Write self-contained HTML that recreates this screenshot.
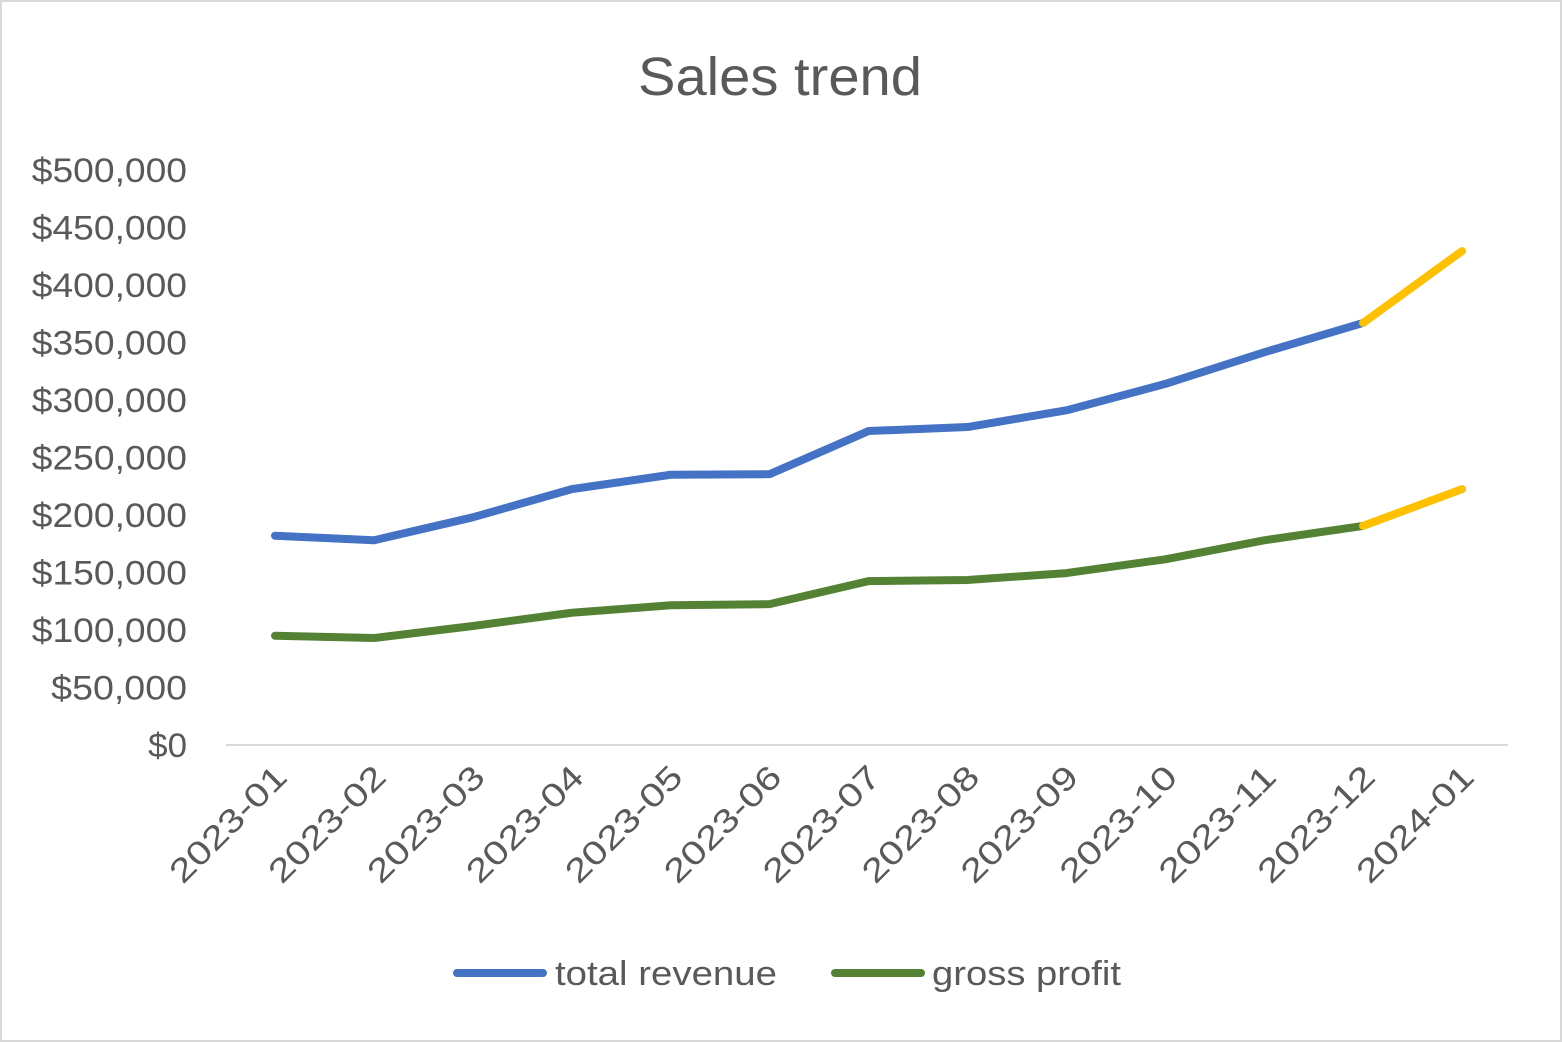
<!DOCTYPE html>
<html><head><meta charset="utf-8"><style>
body{margin:0;background:#fff}
svg{display:block;font-family:"Liberation Sans",sans-serif}
</style></head><body>
<svg width="1562" height="1042">
<rect x="1" y="1" width="1560" height="1040" fill="#fff" stroke="#d9d9d9" stroke-width="2"/>
<text x="638" y="95" font-size="54" fill="#595959" textLength="284" lengthAdjust="spacingAndGlyphs">Sales trend</text>
<g id="yaxis"></g><g id="xaxis"></g><g id="series"></g>
<g>
<line x1="457" y1="973" x2="543" y2="973" stroke="#4472C4" stroke-width="8" stroke-linecap="round"/>
<text x="555" y="985" font-size="34" fill="#595959" textLength="222" lengthAdjust="spacingAndGlyphs">total revenue</text>
<line x1="835" y1="973" x2="921" y2="973" stroke="#548235" stroke-width="8" stroke-linecap="round"/>
<text x="932" y="985" font-size="34" fill="#595959" textLength="189" lengthAdjust="spacingAndGlyphs">gross profit</text>
</g>
</svg>
<script>
const categories=["2023-01","2023-02","2023-03","2023-04","2023-05","2023-06","2023-07","2023-08","2023-09","2023-10","2023-11","2023-12","2024-01"];
const revenue=[182000,178000,198000,222500,235000,235500,273000,276500,291000,314000,341500,367000,429500];
const profit=[95000,93000,103500,115000,121500,122500,142500,143500,149500,161500,178000,190500,222500];
const yTicks=[0,50000,100000,150000,200000,250000,300000,350000,400000,450000,500000];
const NS="http://www.w3.org/2000/svg";
const y=v=>745-v*575/500000;
const x=i=>275+i*(1462-275)/(categories.length-1);
function mk(tag,attrs,parent){const e=document.createElementNS(NS,tag);for(const k in attrs)e.setAttribute(k,attrs[k]);parent.appendChild(e);return e;}
const ya=document.getElementById('yaxis'),xa=document.getElementById('xaxis'),sg=document.getElementById('series');
const axl=mk('line',{x1:226,x2:1508,y1:y(0),y2:y(0),stroke:'#d9d9d9','stroke-width':2},xa);


yTicks.forEach(v=>{const s='$'+v.toLocaleString('en-US');
const t=mk('text',{x:187,y:y(v)+12,'text-anchor':'end','font-size':34,fill:'#595959',textLength:s.length*19.4,lengthAdjust:'spacingAndGlyphs'},ya);
t.textContent=s;

});
categories.forEach((c,i)=>{const t=mk('text',{x:0,y:0,'text-anchor':'end','font-size':33,fill:'#595959',textLength:150,lengthAdjust:'spacingAndGlyphs',transform:`translate(${x(i)+14},${y(0)+34}) rotate(-45)`},xa);
t.textContent=c;

});
function line(data,color,name){const n=data.length;
const pts=data.slice(0,n-1).map((v,i)=>x(i)+','+y(v)).join(' ');
const p=mk('polyline',{points:pts,fill:'none',stroke:color,'stroke-width':8,'stroke-linecap':'round','stroke-linejoin':'round'},sg);


const f=mk('line',{x1:x(n-2),y1:y(data[n-2]),x2:x(n-1),y2:y(data[n-1]),stroke:'#FFC000','stroke-width':8,'stroke-linecap':'round'},sg);

}
line(revenue,'#4472C4','total-revenue');
line(profit,'#548235','gross-profit');
</script>
</body></html>
